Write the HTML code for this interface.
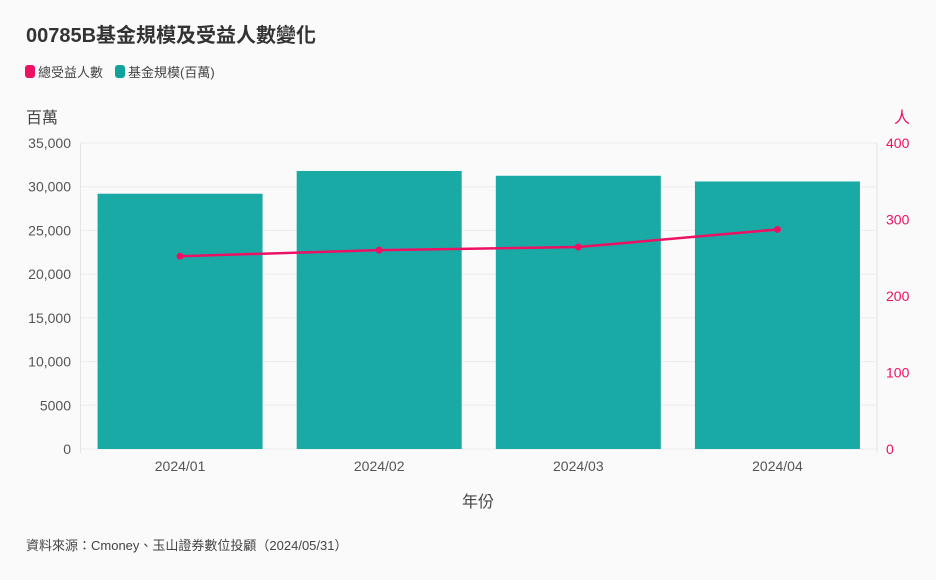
<!DOCTYPE html>
<html><head><meta charset="utf-8"><style>
body{margin:0;background:#fafafa;font-family:"Liberation Sans","Noto Sans CJK TC",sans-serif;}
</style></head><body>
<svg width="936" height="575" xmlns="http://www.w3.org/2000/svg" style="font-family:'Liberation Sans','Noto Sans CJK TC',sans-serif">
<rect width="936" height="575" fill="#fafafa"/>
<text x="26" y="42" font-size="20" font-weight="bold" fill="#333">00785B基金規模及受益人數變化</text>
<g><rect x="25" y="65" width="10" height="13" rx="3" fill="#ec1163"/><text x="38" y="77" font-size="13" fill="#444">總受益人數</text></g>
<g><rect x="115" y="65" width="10" height="13" rx="3" fill="#0fa39c"/><text x="128" y="77" font-size="13" fill="#444">基金規模(百萬)</text></g>
<text x="26" y="123" font-size="16" fill="#444">百萬</text>
<text x="910" y="123" font-size="16" fill="#ec1163" text-anchor="end">人</text>
<g id="g"></g>
<text x="478" y="507" font-size="16" fill="#444" text-anchor="middle">年份</text>
<text x="26" y="550" font-size="13" fill="#444">資料來源：Cmoney、玉山證券數位投顧（2024/05/31）</text>
</svg>
<script>
const categories=["2024/01","2024/02","2024/03","2024/04"];
const fundSize=[29200,31800,31250,30600];
const holders=[252,260,264,287];
const leftTicks=[0,5000,10000,15000,20000,25000,30000,35000];
const leftLabels=["0","5000","10,000","15,000","20,000","25,000","30,000","35,000"];
const rightTicks=[0,100,200,300,400];
const X0=80.5,X1=877,Y0=449,Y1=143;
const yL=v=>Y0-(v/35000)*(Y0-Y1);
const yR=v=>Y0-(v/400)*(Y0-Y1);
const band=(X1-X0)/categories.length;
const xC=i=>X0+band*(i+0.5);
const ns="http://www.w3.org/2000/svg",g=document.getElementById('g');
function mk(t,a,txt){const e=document.createElementNS(ns,t);for(const k in a)e.setAttribute(k,a[k]);if(txt!=null)e.textContent=txt;g.appendChild(e);return e;}
leftTicks.forEach((t,i)=>{
const l=mk('line',{x1:X0,x2:X1,y1:yL(t),y2:yL(t),stroke:'#ececec'});


const tx=mk('text',{x:71,y:yL(t)+5,'font-size':14,fill:'#555','text-anchor':'end'},leftLabels[i]);


});
rightTicks.forEach(t=>{
const tx=mk('text',{x:886,y:yR(t)+5,'font-size':14,fill:'#ec1163'},String(t));


});
[X0,X1].forEach(x=>{const l=mk('line',{x1:x,x2:x,y1:Y1,y2:Y0+4,stroke:'#e4e4e4'});

});
const bw=165;
categories.forEach((c,i)=>{
const r=mk('rect',{x:xC(i)-bw/2,y:yL(fundSize[i]),width:bw,height:Y0-yL(fundSize[i]),fill:'#1aaaa6'});


const tx=mk('text',{x:xC(i),y:471,'font-size':14,fill:'#555','text-anchor':'middle'},c);


});
const p=mk('polyline',{points:holders.map((v,i)=>xC(i)+','+yR(v)).join(' '),fill:'none',stroke:'#ec1163','stroke-width':2.5});


holders.forEach((v,i)=>{const c=mk('circle',{cx:xC(i),cy:yR(v),r:3.5,fill:'#ec1163'});

});
</script>
</body></html>
